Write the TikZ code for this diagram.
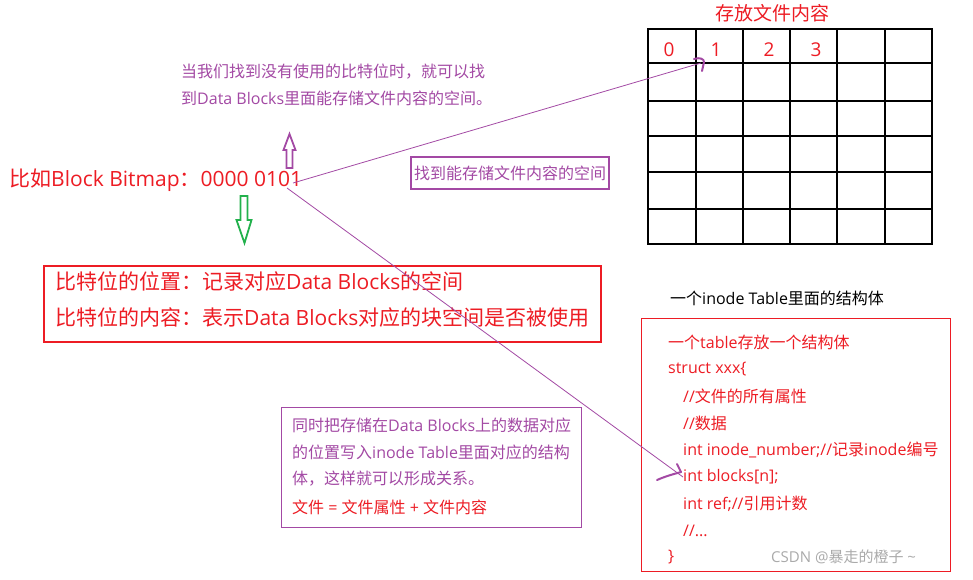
\documentclass[tikz,border=0pt]{standalone}
\usepackage{fontspec}
\setmainfont{Open Sans}
\newfontfamily\cjkfont{Noto Sans CJK SC}
\XeTeXinterchartokenstate=1
\newXeTeXintercharclass\CJKcls
\newcount\tmpc
\tmpc="4E00 \loop \XeTeXcharclass\tmpc=\CJKcls \advance\tmpc 1 \ifnum\tmpc<"A000 \repeat
\tmpc="3000 \loop \XeTeXcharclass\tmpc=\CJKcls \advance\tmpc 1 \ifnum\tmpc<"3040 \repeat
\tmpc="FF00 \loop \XeTeXcharclass\tmpc=\CJKcls \advance\tmpc 1 \ifnum\tmpc<"FFF0 \repeat
\XeTeXinterchartoks 0 \CJKcls = {\begingroup\cjkfont}
\XeTeXinterchartoks 4095 \CJKcls = {\begingroup\cjkfont}
\XeTeXinterchartoks \CJKcls 0 = {\endgroup}
\XeTeXinterchartoks \CJKcls 4095 = {\endgroup}
\usetikzlibrary{arrows.meta}
\definecolor{cred}{RGB}{237,28,36}
\definecolor{cpurple}{RGB}{163,73,164}
\definecolor{cgreen}{RGB}{34,177,76}
\definecolor{cgrey}{RGB}{170,170,170}
\tikzset{
  txt/.style={inner sep=0pt, anchor=west},
  big/.style={txt, text=cred, font=\fontsize{21}{25}\selectfont},
  small/.style={txt, font=\fontsize{16}{19}\selectfont},
  digit/.style={txt, anchor=center, text=cred, font=\fontsize{19}{22}\selectfont},
  gridline/.style={line width=2.6pt, black},
  thinline/.style={cpurple, line width=0.8pt},
  hand/.style={cpurple, line width=2pt, line cap=round, line join=round},
  hollow/.style={line width=1.8pt, fill=white, line join=miter},
}
\begin{document}
\begin{tikzpicture}[x=1pt,y=-1pt]
\useasboundingbox[fill=white] (0,0) rectangle (973,579);

% grid
\foreach \x in {648,696,743,790,837,885,932}
  \draw[gridline] (\x,28) -- (\x,245);
\foreach \y in {29,63,101,136,172,209,244}
  \draw[gridline] (647,\y) -- (933,\y);
\node[txt, anchor=center, text=cred, font=\fontsize{19}{22}\selectfont] (title) at (772,13) {存放文件内容};
\node[digit] (n0) at (669,50) {0};
\node[digit] (n1) at (716,50) {1};
\node[digit] (n2) at (769,50) {2};
\node[digit] (n3) at (816,50) {3};
\coordinate (cellhit) at (701,63);

% top purple text
\node[small, text=cpurple] (note1) at (181,72) {当我们找到没有使用的比特位时，就可以找};
\node[small, text=cpurple] (note2) at (181,98) {到Data Blocks里面能存储文件内容的空间。};

% bitmap line
\node[big] (bitmap) at (9,180) {比如Block Bitmap：0000 0101};
\coordinate (bmA) at (293,183);
\coordinate (bmB) at (287,188);

% hollow arrows
\draw[hollow, draw=cpurple] (286.5,168) -- (286.5,150) -- (283.5,150) -- (289.5,134) -- (295.5,150) -- (292.5,150) -- (292.5,168) -- cycle;
\draw[hollow, draw=cgreen] (240.5,196) -- (240.5,220) -- (236.5,220) -- (244.5,243) -- (251.5,220) -- (247.5,220) -- (247.5,196) -- cycle;

% purple box
\node[small, draw=cpurple, line width=2.8pt, text=cpurple, minimum width=198pt, minimum height=32pt, inner sep=0pt, anchor=center] (findbox) at (510,173) {找到能存储文件内容的空间};

% red box
\draw[cred, line width=2.8pt] (44,266) rectangle (601,342);
\node[big] (bit1) at (55,282) {比特位的位置：记录对应Data Blocks的空间};
\node[big] (bit2) at (55,318) {比特位的内容：表示Data Blocks对应的块空间是否被使用};

% lower purple box
\draw[cpurple, line width=1pt] (281,407) rectangle (581,527);
\node[small, text=cpurple] (l1) at (292,425) {同时把存储在Data Blocks上的数据对应};
\node[small, text=cpurple] (l2) at (292,452) {的位置写入inode Table里面对应的结构};
\node[small, text=cpurple] (l3) at (292,479) {体，这样就可以形成关系。};
\node[small, text=cred] (l4) at (292,507) {文件 = 文件属性 + 文件内容};

% inode table
\node[small, text=black] (itab) at (670,298) {一个inode Table里面的结构体};
\draw[cred, line width=1pt] (641,318) rectangle (950,571);
\node[small, text=cred] (c1) at (668,342) {一个table存放一个结构体};
\node[small, text=cred] (c2) at (668,369) {struct xxx\{};
\node[small, text=cred] (c3) at (683,396) {//文件的所有属性};
\node[small, text=cred] (c4) at (683,423) {//数据};
\node[small, text=cred] (c5) at (683,450) {int inode\_number;//记录inode编号};
\node[small, text=cred] (c6) at (683,477) {int blocks[n];};
\node[small, text=cred] (c7) at (683,504) {int ref;//引用计数};
\node[small, text=cred] (c8) at (683,531) {//...};
\node[small, text=cred] (c9) at (668,557) {\}};
\node[small, text=cgrey, font=\fontsize{15}{18}\selectfont] (wm) at (771,557) {CSDN @暴走的橙子 \textasciitilde};

% connectors
\draw[thinline] (bmA) -- (cellhit);
\draw[hand] (694,59) .. controls (700,57) and (704,59) .. (704,62) -- (702,71);
\draw[thinline] (bmB) -- (c6.west);
\draw[hand] (677,464) -- (681,472);
\draw[hand] (657,480) .. controls (666,476) and (674,474) .. (681,472);
\end{tikzpicture}
\end{document}
